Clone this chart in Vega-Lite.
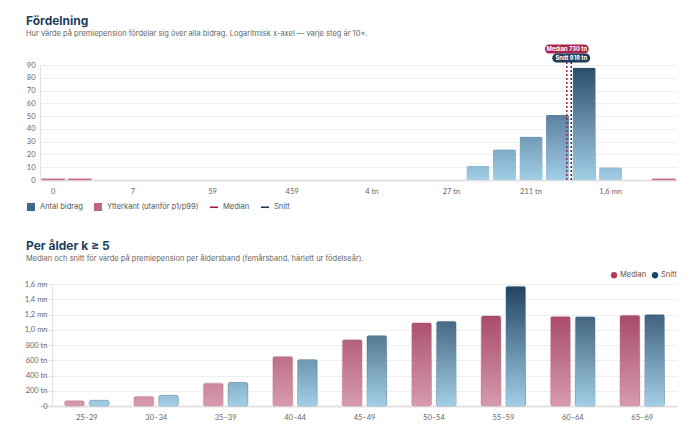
{
  "$schema": "https://vega.github.io/schema/vega-lite/v6.json",
  "background": "white",
  "padding": {"left": 24, "top": 15, "right": 5, "bottom": 5},
  "spacing": 28,
  "columns": 1,
  "align": "none",
  "resolve": {
    "scale": {"color": "independent"},
    "legend": {"color": "independent"}
  },
  "config": {
    "font": "Lato",
    "view": {"stroke": null},
    "axis": {"labelFont": "Lato", "labelFontSize": 7.5, "labelColor": "#666", "gridColor": "#eeeeee", "domainColor": "#e2e2e2", "tickColor": "#dddddd", "title": null},
    "title": {"font": "Inter", "fontSize": 12, "fontWeight": 700, "color": "#1f3f5f", "subtitleFont": "Inter", "subtitleFontSize": 7.5, "subtitleColor": "#666", "anchor": "start", "frame": "group", "subtitlePadding": 2},
    "legend": {"labelFont": "Inter", "labelFontSize": 7.5, "labelColor": "#555"}
  },
  "concat": [
    {
      "width": 637,
      "height": 115,
      "title": {"text": "Fördelning", "subtitle": "Hur värde på premiepension fördelar sig över alla bidrag. Logaritmisk x-axel — varje steg är 10×.", "dx": -14, "offset": 6},
      "layer": [
        {
          "data": {"values": [
            {"bin": 16, "kind": "Antal bidrag", "count": 11},
            {"bin": 17, "kind": "Antal bidrag", "count": 24},
            {"bin": 18, "kind": "Antal bidrag", "count": 34},
            {"bin": 19, "kind": "Antal bidrag", "count": 51},
            {"bin": 20, "kind": "Antal bidrag", "count": 88},
            {"bin": 21, "kind": "Antal bidrag", "count": 10}
          ]},
          "encoding": {
            "x": {"field": "bin", "type": "ordinal",
              "scale": {"domain": [0,1,2,3,4,5,6,7,8,9,10,11,12,13,14,15,16,17,18,19,20,21,22,23], "paddingInner": 0.13, "paddingOuter": 0.065},
              "axis": {"values": [0,3,6,9,12,15,18,21], "labelAngle": 0, "ticks": false, "domainWidth": 2, "labelPadding": 7,
                "labelExpr": "datum.value == 0 ? '0' : datum.value == 3 ? '7' : datum.value == 6 ? '59' : datum.value == 9 ? '459' : datum.value == 12 ? '4 tn' : datum.value == 15 ? '27 tn' : datum.value == 18 ? '211 tn' : '1,6 mn'"}},
            "y": {"field": "count", "type": "quantitative", "scale": {"domain": [0, 90], "nice": false},
              "axis": {"values": [0,10,20,30,40,50,60,70,80,90], "ticks": false, "labelPadding": 5, "domainWidth": 1}}
          },
          "layer": [
            {
              "mark": {"type": "bar", "cornerRadius": 2},
              "encoding": {
                "fill": {"field": "count", "type": "quantitative", "scale": {"domain": [0, 90], "range": ["#a2cee6", "#284b6a"]}, "legend": null}
              }
            },
            {
              "mark": {"type": "bar", "cornerRadius": 2,
                "fill": {"gradient": "linear", "x1": 0, "y1": 0, "x2": 0, "y2": 1, "stops": [{"offset": 0, "color": "rgba(162,206,230,0)"}, {"offset": 1, "color": "rgba(162,206,230,1)"}]}}
            }
          ]
        },
        {
          "data": {"values": [
            {"bin": 0, "kind": "Ytterkant (utanför p1/p99)", "count": 1},
            {"bin": 1, "kind": "Ytterkant (utanför p1/p99)", "count": 1},
            {"bin": 23, "kind": "Ytterkant (utanför p1/p99)", "count": 1}
          ]},
          "mark": {"type": "bar", "color": "#c9728c", "fill": "#c9728c", "stroke": "#c9728c", "strokeWidth": 0.4, "opacity": 1},
          "encoding": {
            "x": {"field": "bin", "type": "ordinal",
              "scale": {"domain": [0,1,2,3,4,5,6,7,8,9,10,11,12,13,14,15,16,17,18,19,20,21,22,23], "paddingInner": 0.13, "paddingOuter": 0.065},
              "axis": null},
            "y": {"field": "count", "type": "quantitative", "scale": {"domain": [0, 90], "nice": false},
              "axis": {"values": [0,10,20,30,40,50,60,70,80,90], "ticks": false, "labelPadding": 5, "domainWidth": 1}}
          }
        },
        {
          "data": {"values": [
            {"series": "Median", "value": 730000, "label": "Median 730 tn"},
            {"series": "Snitt", "value": 818000, "label": "Snitt 818 tn"}
          ]},
          "encoding": {
            "x": {"field": "value", "type": "quantitative", "scale": {"type": "log", "domain": [1, 12300000]}, "axis": null}
          },
          "layer": [
            {
              "mark": {"type": "rule", "strokeDash": [2, 2], "strokeWidth": 1.5},
              "encoding": {
                "y": {"datum": 0, "type": "quantitative", "axis": {"values": [0,10,20,30,40,50,60,70,80,90], "ticks": false, "labelPadding": 5, "domainWidth": 1}},
                "y2": {"datum": 93},
                "stroke": {"field": "series", "type": "nominal", "scale": {"domain": ["Median", "Snitt"], "range": ["#a0244c", "#1b3550"]}, "legend": null}
              }
            },
            {
              "transform": [{"filter": "datum.series == 'Median'"}],
              "mark": {"type": "point", "filled": true, "opacity": 1, "fill": "#a8234d", "strokeWidth": 0, "size": 1936,
                "shape": "M-0.795,-0.2045L0.795,-0.2045A0.2045,0.2045 0 0 1 0.795,0.2045L-0.795,0.2045A0.2045,0.2045 0 0 1 -0.795,-0.2045Z"},
              "encoding": {"y": {"datum": 102.5, "type": "quantitative", "axis": {"values": [0,10,20,30,40,50,60,70,80,90], "ticks": false, "labelPadding": 5, "domainWidth": 1}}}
            },
            {
              "transform": [{"filter": "datum.series == 'Median'"}],
              "mark": {"type": "text", "font": "Inter", "fontSize": 5.8, "fontWeight": 700, "color": "white"},
              "encoding": {"y": {"datum": 102.5, "type": "quantitative", "axis": {"values": [0,10,20,30,40,50,60,70,80,90], "ticks": false, "labelPadding": 5, "domainWidth": 1}}, "text": {"field": "label"}}
            },
            {
              "transform": [{"filter": "datum.series == 'Snitt'"}],
              "mark": {"type": "point", "filled": true, "opacity": 1, "fill": "#1f3d5b", "strokeWidth": 0, "size": 1444,
                "shape": "M-0.763,-0.2368L0.763,-0.2368A0.2368,0.2368 0 0 1 0.763,0.2368L-0.763,0.2368A0.2368,0.2368 0 0 1 -0.763,-0.2368Z"},
              "encoding": {"y": {"datum": 95.5, "type": "quantitative", "axis": {"values": [0,10,20,30,40,50,60,70,80,90], "ticks": false, "labelPadding": 5, "domainWidth": 1}}}
            },
            {
              "transform": [{"filter": "datum.series == 'Snitt'"}],
              "mark": {"type": "text", "font": "Inter", "fontSize": 5.8, "fontWeight": 700, "color": "white"},
              "encoding": {"y": {"datum": 95.5, "type": "quantitative", "axis": {"values": [0,10,20,30,40,50,60,70,80,90], "ticks": false, "labelPadding": 5, "domainWidth": 1}}, "text": {"field": "label"}}
            }
          ]
        },
        {
          "data": {"values": [
            {"series": "Antal bidrag"},
            {"series": "Ytterkant (utanför p1/p99)"},
            {"series": "Median"},
            {"series": "Snitt"}
          ]},
          "mark": {"type": "point", "filled": true, "opacity": 0},
          "encoding": {
            "color": {"field": "series", "type": "nominal",
              "scale": {"domain": ["Antal bidrag", "Ytterkant (utanför p1/p99)", "Median", "Snitt"], "range": ["#3b6a8d", "#c06581", "#9c1c44", "#1d3654"]},
              "legend": {"title": null, "orient": "none", "legendX": -14, "legendY": 137, "direction": "horizontal", "symbolSize": 64, "columnPadding": 10, "labelOffset": 4,
                "encode": {"symbols": {"update": {"opacity": {"value": 1},
                  "shape": {"signal": "datum.value == 'Median' || datum.value == 'Snitt' ? 'M-1,-0.2L1,-0.2L1,0.2L-1,0.2Z' : 'square'"}}}}}}
          }
        }
      ],
      "resolve": {"scale": {"x": "independent"}}
    },
    {
      "width": 637,
      "height": 122,
      "title": {"text": "Per ålder   k ≥ 5", "subtitle": "Median och snitt för värde på premiepension per åldersband (femårsband, härlett ur födelseår).", "dx": -14, "offset": 8},
      "layer": [
        {
          "data": {"values": [
            {"band": "25–29", "stat": "Median", "value": 70000},
            {"band": "25–29", "stat": "Snitt", "value": 75000},
            {"band": "30–34", "stat": "Median", "value": 125000},
            {"band": "30–34", "stat": "Snitt", "value": 140000},
            {"band": "35–39", "stat": "Median", "value": 300000},
            {"band": "35–39", "stat": "Snitt", "value": 310000},
            {"band": "40–44", "stat": "Median", "value": 650000},
            {"band": "40–44", "stat": "Snitt", "value": 610000},
            {"band": "45–49", "stat": "Median", "value": 870000},
            {"band": "45–49", "stat": "Snitt", "value": 925000},
            {"band": "50–54", "stat": "Median", "value": 1090000},
            {"band": "50–54", "stat": "Snitt", "value": 1110000},
            {"band": "55–59", "stat": "Median", "value": 1180000},
            {"band": "55–59", "stat": "Snitt", "value": 1570000},
            {"band": "60–64", "stat": "Median", "value": 1175000},
            {"band": "60–64", "stat": "Snitt", "value": 1170000},
            {"band": "65–69", "stat": "Median", "value": 1190000},
            {"band": "65–69", "stat": "Snitt", "value": 1200000}
          ]},
          "encoding": {
            "x": {"field": "band", "type": "nominal", "sort": null, "scale": {"paddingInner": 0.36, "paddingOuter": 0.267, "align": 0.662},
              "axis": {"labelAngle": 0, "ticks": false, "domainWidth": 2, "labelPadding": 7}},
            "xOffset": {"field": "stat", "type": "nominal", "scale": {"domain": ["Median", "Snitt"], "paddingInner": 0.2}},
            "y": {"field": "value", "type": "quantitative", "scale": {"domain": [0, 1600000], "nice": false},
              "axis": {"values": [0,200000,400000,600000,800000,1000000,1200000,1400000,1600000], "offset": -12, "tickSize": 3, "labelPadding": 2, "domainWidth": 1,
                "labelExpr": "datum.value == 0 ? '0' : datum.value < 1000000 ? format(datum.value/1000, 'd') + ' tn' : replace(format(datum.value/1000000, '.1f'), '.', ',') + ' mn'"}}
          },
          "layer": [
            {
              "transform": [{"filter": "datum.stat == 'Median'"}],
              "mark": {"type": "bar", "cornerRadius": 2, "stroke": "#b04a6a", "strokeWidth": 0.7, "strokeOpacity": 0.5},
              "encoding": {
                "fill": {"field": "value", "type": "quantitative", "scale": {"domain": [0, 1600000], "range": ["#d69bac", "#972d52"]}, "legend": null}
              }
            },
            {
              "transform": [{"filter": "datum.stat == 'Snitt'"}],
              "mark": {"type": "bar", "cornerRadius": 2, "stroke": "#2f5878", "strokeWidth": 0.7, "strokeOpacity": 0.5},
              "encoding": {
                "fill": {"field": "value", "type": "quantitative", "scale": {"domain": [0, 1600000], "range": ["#a2cee6", "#21425f"]}, "legend": null}
              }
            },
            {
              "transform": [{"filter": "datum.stat == 'Median'"}],
              "mark": {"type": "bar", "cornerRadius": 2,
                "fill": {"gradient": "linear", "x1": 0, "y1": 0, "x2": 0, "y2": 1, "stops": [{"offset": 0, "color": "rgba(214,155,172,0)"}, {"offset": 1, "color": "rgba(214,155,172,1)"}]}}
            },
            {
              "transform": [{"filter": "datum.stat == 'Snitt'"}],
              "mark": {"type": "bar", "cornerRadius": 2,
                "fill": {"gradient": "linear", "x1": 0, "y1": 0, "x2": 0, "y2": 1, "stops": [{"offset": 0, "color": "rgba(162,206,230,0)"}, {"offset": 1, "color": "rgba(162,206,230,1)"}]}}
            }
          ],
          "resolve": {"scale": {"fill": "independent"}}
        },
        {
          "data": {"values": [{"stat": "Median"}, {"stat": "Snitt"}]},
          "mark": {"type": "point", "filled": true, "opacity": 0},
          "encoding": {
            "color": {"field": "stat", "type": "nominal", "scale": {"domain": ["Median", "Snitt"], "range": ["#b03a5e", "#1e4565"]},
              "legend": {"title": null, "orient": "none", "legendX": 570, "legendY": -13, "direction": "horizontal", "symbolType": "circle", "symbolSize": 40, "columnPadding": 4, "labelOffset": 2,
                "encode": {"symbols": {"update": {"opacity": {"value": 1}}}}}}
          }
        }
      ],
      "resolve": {"scale": {"fill": "independent"}}
    }
  ]
}
